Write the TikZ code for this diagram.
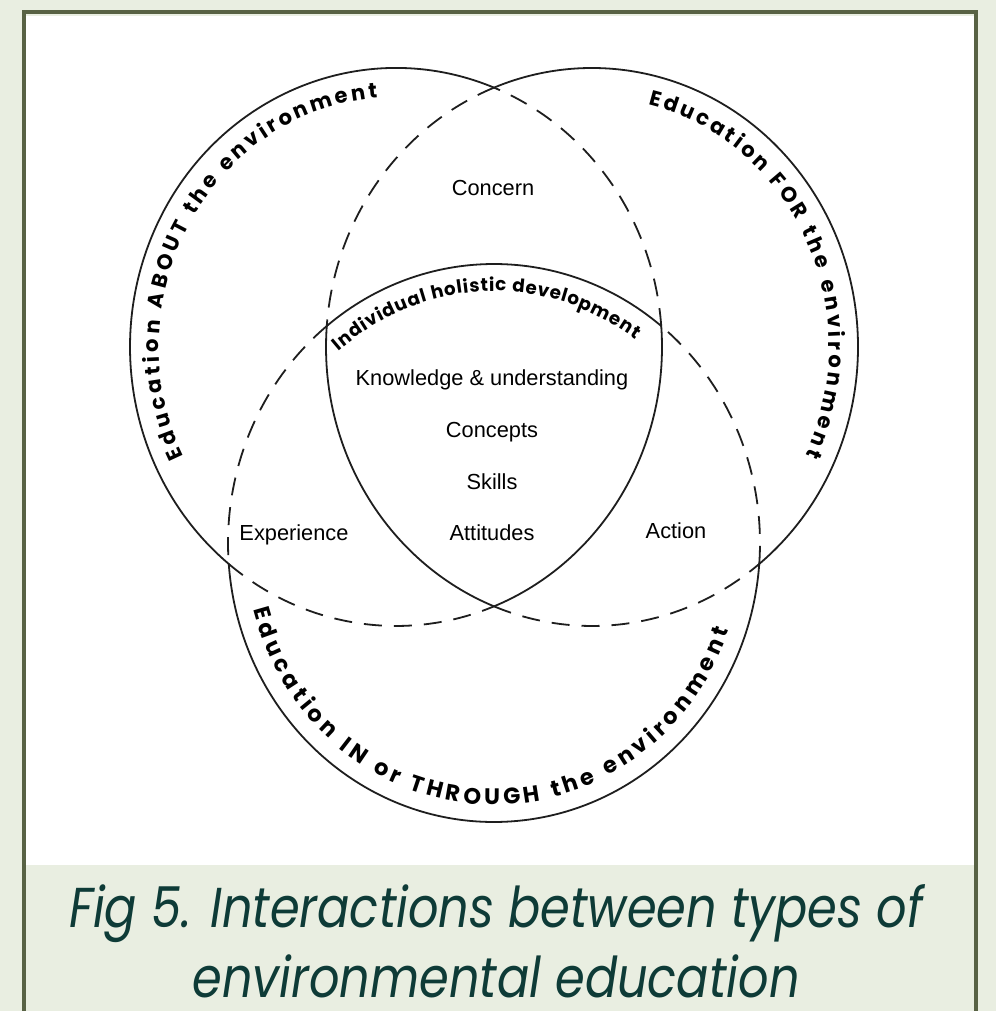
\documentclass[tikz,border=0pt]{standalone}
\usepackage{fontspec}
\usetikzlibrary{calc}
\newfontfamily\lblfont{Liberation Sans}
\newfontfamily\ringfont{Poppins}
\newfontfamily\capfont{Poppins}
\definecolor{bggreen}{RGB}{233,238,225}
\definecolor{framegreen}{RGB}{88,98,68}
\definecolor{captionteal}{RGB}{14,59,55}
\definecolor{inkgray}{RGB}{30,30,30}
\tikzset{
  ring/.style={line width=0.45mm, draw=inkgray, line cap=round},
  ringdash/.style={ring, line cap=butt, dash pattern=on 4.5mm off 3mm},
  inlabel/.style={font=\lblfont\fontsize{15.5}{18}\selectfont, anchor=base, inner sep=0pt},
  caption/.style={font=\capfont\itshape\fontsize{40}{48}\selectfont, text=captionteal, anchor=base, inner sep=0pt, xscale=0.85}
}
\newlength\chwd
\def\ellarc[#1](#2)(#3:#4){\draw[#1] (#2) ++(#3:266 and 279) arc[start angle=#3, end angle=#4, x radius=266, y radius=279];}
% width of one letter, measured outside the picture's null font
\def\letterwd#1#2{\pgfinterruptpicture\settowidth\chwd{#1#2}\global\chwd=\chwd\endpgfinterruptpicture}
% letters spread along an ellipse arc, from angle #6 to angle #7
\def\arctext#1[#2](#3)(#4,#5)(#6:#7)#8{%
  \gdef\arcwsum{0}\gdef\arcn{0}%
  \foreach \lt in {#8}{%
    \letterwd{#2}{\lt}%
    \pgfmathparse{\arcwsum+\chwd}\xdef\arcwsum{\pgfmathresult}%
    \pgfmathparse{\arcn+1}\xdef\arcn{\pgfmathresult}}%
  \pgfmathsetmacro\arcrad{(#4+#5)/2*0.7113}%
  \pgfmathsetmacro\arcsgn{sign(#7-#6)}%
  \pgfmathsetmacro\arctrk{(abs(#7-#6)*pi/180*\arcrad-\arcwsum)/(\arcn-1)}%
  \gdef\arcpos{0}%
  \foreach \lt [count=\k] in {#8}{%
    \letterwd{#2}{\lt}%
    \pgfmathsetmacro\arcang{#6+(\arcsgn)*(\arcpos+\chwd/2)/\arcrad*180/pi}%
    \path (#3) ++(\arcang:#4 and #5) node[font=#2, anchor=base, inner sep=0pt, rotate=\arcang+(\arcsgn)*90] (#1\k) {\lt};%
    \pgfmathparse{\arcpos+\chwd+\arctrk}\xdef\arcpos{\pgfmathresult}}%
}

\begin{document}
\begin{tikzpicture}[x=0.25mm, y=0.25mm]
		%%%%% START %%%%%
		\useasboundingbox (0,0) rectangle (996,1011);
		\fill[bggreen] (0,0) rectangle (996,1011);
		\fill[framegreen] (22,0) rectangle (26,1001);
		\fill[framegreen] (974,0) rectangle (978,1001);
		\fill[framegreen] (22,997) rectangle (978,1001);
		\fill[white] (26,146) rectangle (974,995);
		
		\coordinate (A) at (396,664);
		\coordinate (B) at (592,664);
		\coordinate (C) at (494,468);
		
		% about
		\ellarc[ring](A)(68.4:231.03);
		\ellarc[ringdash](A)(231.03:291.6);
		\ellarc[ring](A)(291.6:364.31);
		\ellarc[ringdash](A)(4.31:68.4);
		% for
		\ellarc[ring](B)(-51.03:111.6);
		\ellarc[ringdash](B)(111.6:175.69);
		\ellarc[ring](B)(175.69:248.4);
		\ellarc[ringdash](B)(248.4:308.97);
		% in / through
		\ellarc[ring](C)(184.31:355.69);
		\ellarc[ringdash](C)(-4.31:51.03);
		\ellarc[ring](C)(51.03:128.97);
		\ellarc[ringdash](C)(128.97:184.31);
		
		\arctext{about}[\ringfont\bfseries\fontsize{15}{18}\selectfont](A)(237,250)(206:94.5){E,d,u,c,a,t,i,o,n,\ ,A,B,O,U,T,\ ,t,h,e,\ ,e,n,v,i,r,o,n,m,e,n,t}
		\arctext{for}[\ringfont\bfseries\fontsize{15}{18}\selectfont](B)(237,250)(76.1:-25.6){E,d,u,c,a,t,i,o,n,\ ,F,O,R,\ ,t,h,e,\ ,e,n,v,i,r,o,n,m,e,n,t}
		\arctext{thru}[\ringfont\bfseries\fontsize{16}{19}\selectfont](C)(249,262)(194.7:340.6){E,d,u,c,a,t,i,o,n,\ ,I,N,\ ,o,r,\ ,T,H,R,O,U,G,H,\ ,t,h,e,\ ,e,n,v,i,r,o,n,m,e,n,t}
		\arctext{ihd}[\ringfont\bfseries\fontsize{13}{16}\selectfont](C)(239,252)(130.6:53.8){I,n,d,i,v,i,d,u,a,l,\ ,h,o,l,i,s,t,i,c,\ ,d,e,v,e,l,o,p,m,e,n,t}
		
		\node[inlabel] (concern) at (493,815) {Concern};
		\node[inlabel] (knowledge) at (492,625) {Knowledge \& understanding};
		\node[inlabel] (concepts) at (492,573) {Concepts};
		\node[inlabel] (skills) at (492,521) {Skills};
		\node[inlabel] (attitudes) at (492,470) {Attitudes};
		\node[inlabel] (experience) at (294,470) {Experience};
		\node[inlabel] (action) at (676,472) {Action};
		
		\node[caption] (capone) at (496,83) {Fig 5. Interactions between types of};
		\node[caption] (captwo) at (496,13) {environmental education};
		%%%%% END %%%%%
\end{tikzpicture}
\end{document}
